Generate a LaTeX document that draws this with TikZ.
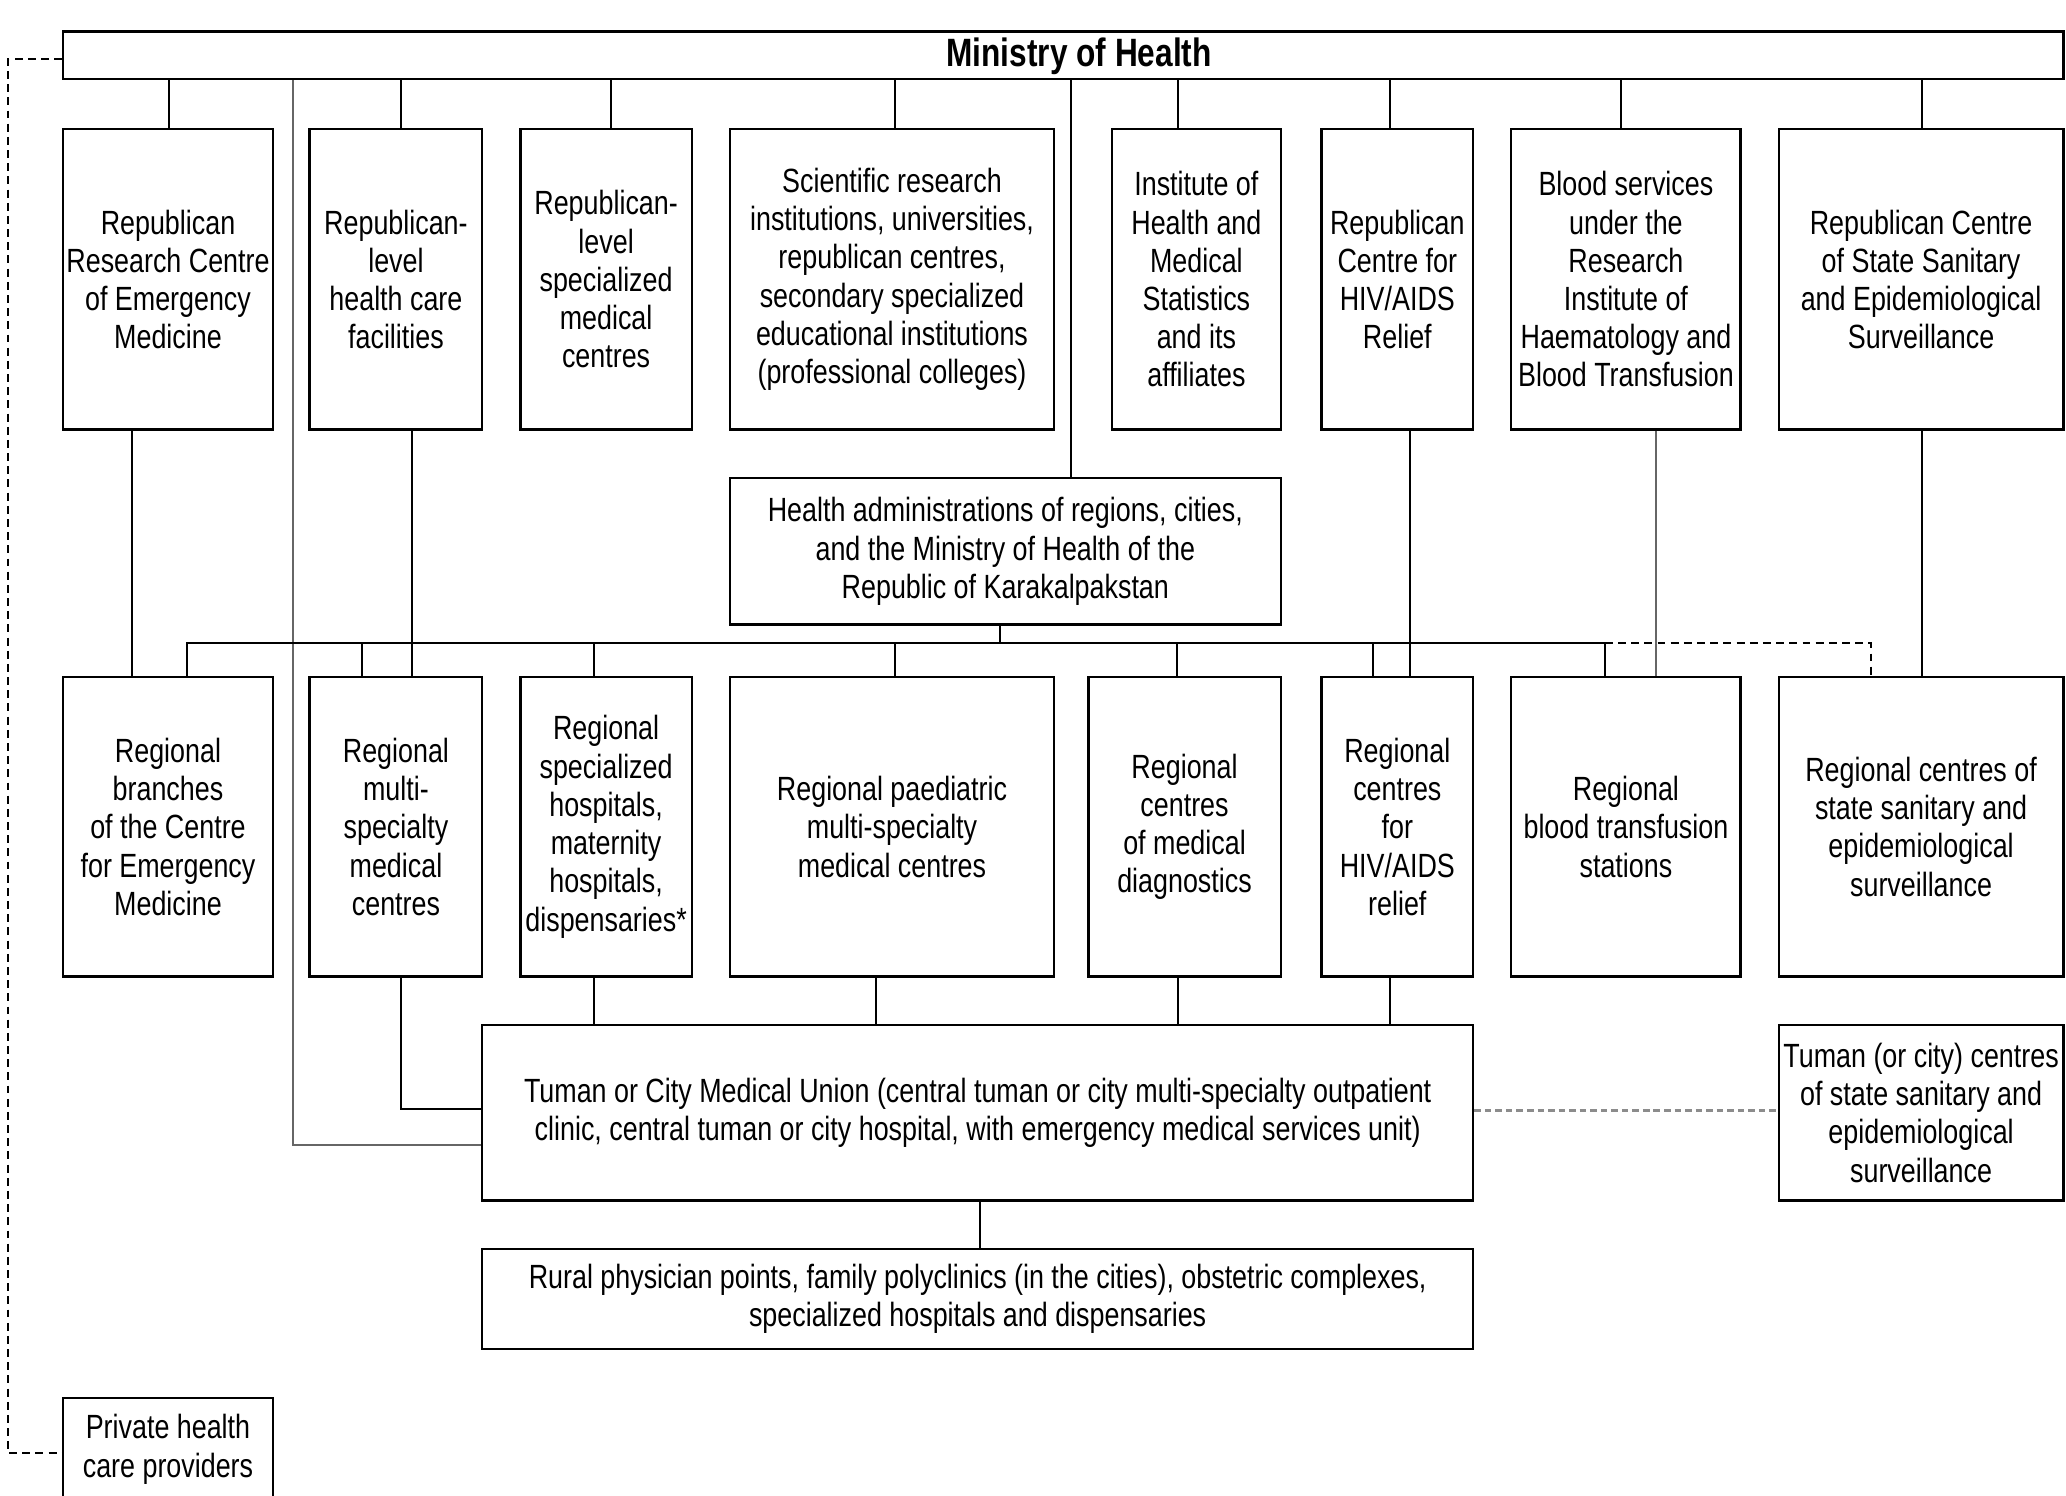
\documentclass[tikz,border=0pt]{standalone}
\usepackage{fontspec}
\setmainfont{Liberation Sans}[FakeStretch=0.80]
\begin{document}
\begin{tikzpicture}[x=1pt,y=-1pt,
  box/.style={draw, line width=1.8pt, inner sep=0pt, align=center, font=\fontsize{25.5}{29}\selectfont},
  conn/.style={line width=1.5pt},
  greyconn/.style={line width=1.5pt, draw=black!60},
  dashconn/.style={line width=1.5pt, dash pattern=on 6pt off 4pt},
  greydash/.style={line width=2pt, draw=black!45, dash pattern=on 5pt off 3pt}]
\useasboundingbox (0,0) rectangle (1568,1135);
\clip (0,0) rectangle (1568,1135);
\fill[white] (0,0) rectangle (1568,1135);

% Ministry bar
\node[box, minimum width=1518pt, minimum height=36pt] (moh) at (807,42) {};
\node[font=\fontsize{30}{32}\selectfont\bfseries, inner sep=0pt] (mohtext) at (819,43) {Ministry of Health};

% Top row
\node[box, minimum width=159pt, minimum height=228pt] (t1) at (127.5,212) {Republican\\Research Centre\\of Emergency\\Medicine};
\node[box, minimum width=131pt, minimum height=228pt] (t2) at (300.5,212) {Republican-\\level\\health care\\facilities};
\node[box, minimum width=130pt, minimum height=228pt] (t3) at (460,212) {Republican-\\level\\specialized\\medical\\centres};
\node[box, minimum width=246pt, minimum height=228pt] (t4) at (677,212) {Scientific research\\institutions, universities,\\republican centres,\\secondary specialized\\educational institutions\\(professional colleges)};
\node[box, minimum width=128pt, minimum height=228pt] (t5) at (908,212) {Institute of\\Health and\\Medical\\Statistics\\and its\\affiliates};
\node[box, minimum width=115pt, minimum height=228pt] (t6) at (1060.5,212) {Republican\\Centre for\\HIV/AIDS\\Relief};
\node[box, minimum width=174pt, minimum height=228pt] (t7) at (1234,212) {Blood services\\under the\\Research\\Institute of\\Haematology and\\Blood Transfusion};
\node[box, minimum width=216pt, minimum height=228pt] (t8) at (1458,212) {Republican Centre\\of State Sanitary\\and Epidemiological\\Surveillance};

% Health administrations
\node[box, minimum width=418pt, minimum height=111pt] (ha) at (763,418.5) {Health administrations of regions, cities,\\and the Ministry of Health of the\\Republic of Karakalpakstan};

% Second row
\node[box, minimum width=159pt, minimum height=227pt] (r1) at (127.5,627.5) {Regional\\branches\\of the Centre\\for Emergency\\Medicine};
\node[box, minimum width=131pt, minimum height=227pt] (r2) at (300.5,627.5) {Regional\\multi-\\specialty\\medical\\centres};
\node[box, minimum width=130pt, minimum height=227pt] (r3) at (460,627.5) {Regional\\specialized\\hospitals,\\maternity\\hospitals,\\dispensaries*};
\node[box, minimum width=246pt, minimum height=227pt] (r4) at (677,627.5) {Regional paediatric\\multi-specialty\\medical centres};
\node[box, minimum width=146pt, minimum height=227pt] (r5) at (899,627.5) {Regional\\centres\\of medical\\diagnostics};
\node[box, minimum width=115pt, minimum height=227pt] (r6) at (1060.5,627.5) {Regional\\centres\\for\\HIV/AIDS\\relief};
\node[box, minimum width=174pt, minimum height=227pt] (r7) at (1234,627.5) {Regional\\blood transfusion\\stations};
\node[box, minimum width=216pt, minimum height=227pt] (r8) at (1458,627.5) {Regional centres of\\state sanitary and\\epidemiological\\surveillance};

% Tuman level
\node[box, minimum width=752pt, minimum height=133pt] (tu) at (742,844.5) {Tuman or City Medical Union (central tuman or city multi-specialty outpatient\\clinic, central tuman or city hospital, with emergency medical services unit)};
\node[box, minimum width=216pt, minimum height=133pt] (tc) at (1458,844.5) {Tuman (or city) centres\\of state sanitary and\\epidemiological\\surveillance};
\node[box, minimum width=752pt, minimum height=76pt] (ru) at (742,986) {Rural physician points, family polyclinics (in the cities), obstetric complexes,\\specialized hospitals and dispensaries};
\node[box, minimum width=159pt, minimum height=78pt] (pv) at (127.5,1100) {Private health\\care providers};

% Ministry to top row
\foreach \n/\xx in {t1/128, t2/304, t3/464, t4/679, t5/894, t6/1055, t7/1230, t8/1459}
  \draw[conn] (moh.south -| \xx,0) -- (\n.north -| \xx,0);
% Ministry to health administrations
\draw[conn] (moh.south -| 813,0) -- (ha.north -| 813,0);
% Ministry to Tuman union (long line)
\draw[greyconn] (moh.south -| 222,0) -- (222,869) -- (tu.west |- 0,869);

% Top row to second row (direct)
\draw[conn] (t1.south -| 100,0) -- (r1.north -| 100,0);
\draw[conn] (t2.south -| 313,0) -- (r2.north -| 313,0);
\draw[conn] (t6.south -| 1070,0) -- (r6.north -| 1070,0);
\draw[greyconn] (t7.south -| 1257,0) -- (r7.north -| 1257,0);
\draw[conn] (t8.south -| 1459,0) -- (r8.north -| 1459,0);

% Bus from health administrations
\coordinate (busL) at (142,488);
\coordinate (busR) at (1218,488);
\draw[conn] (ha.south -| 759,0) -- (busL -| 759,0);
\draw[conn] (r1.north -| busL) -- (busL) -- (busR) -- (r7.north -| busR);
\foreach \n/\xx in {r2/275, r3/451, r4/679, r5/893, r6/1042}
  \draw[conn] (busL -| \xx,0) -- (\n.north -| \xx,0);
\draw[dashconn] (busR) -- (busL -| 1420,0) -- (r8.north -| 1420,0);

% Second row to Tuman union
\foreach \n/\xx in {r3/451, r4/665, r5/894, r6/1055}
  \draw[conn] (\n.south -| \xx,0) -- (tu.north -| \xx,0);
\draw[conn] (r2.south -| 304,0) -- (304,842) -- (tu.west |- 0,842);

% Tuman to rural
\draw[conn] (tu.south -| 744,0) -- (ru.north -| 744,0);
% Tuman to Tuman centres (dashed)
\draw[greydash] (tu.east |- 0,843) -- (tc.west |- 0,843);

% Ministry to private providers (dashed)
\draw[dashconn] (moh.west |- 0,45) -- (6,45) -- (6,1103) -- (pv.west |- 0,1103);
\end{tikzpicture}
\end{document}
